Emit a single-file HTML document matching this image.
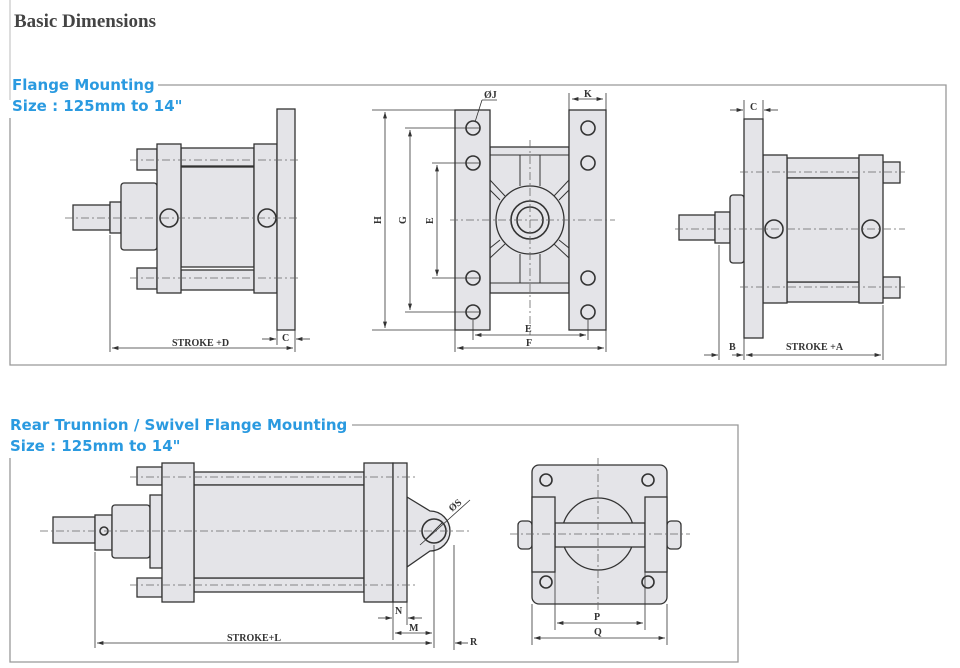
<!DOCTYPE html>
<html><head><meta charset="utf-8"><style>
html,body{margin:0;padding:0;background:#fff;}
svg{display:block;}
.t{font-family:"Liberation Serif",serif;}
.b{font-family:"DejaVu Sans","Liberation Sans",sans-serif;font-weight:bold;fill:#2a9ae0;font-size:15px;}
.p{fill:#e4e4e8;stroke:#333;stroke-width:1.3;}
.l{stroke:#333;stroke-width:1;fill:none;}
.c{stroke:#666;stroke-width:0.8;stroke-dasharray:8 3 2 3;fill:none;}
.d{stroke:#333;stroke-width:0.8;fill:none;}
.h{fill:#e4e4e8;stroke:#333;stroke-width:1.6;}
.lab{font-family:"Liberation Serif",serif;font-size:10px;font-weight:bold;fill:#333;}
</style></head><body>
<svg width="960" height="668" viewBox="0 0 960 668" xmlns="http://www.w3.org/2000/svg">
<defs><marker id="a" markerWidth="8" markerHeight="6" refX="8" refY="3" orient="auto-start-reverse"><path d="M0,0.5 L8,3 L0,5.5z" fill="#333"/></marker></defs>
<text x="14" y="27" class="t" font-size="19" font-weight="bold" fill="#444">Basic Dimensions</text>
<line x1="10" y1="0" x2="10" y2="100" stroke="#bbb"/>
<!-- box 1 -->
<path d="M158,85 H946 V365 H10 V118" fill="none" stroke="#999" stroke-width="1.3"/>
<text x="12" y="90" class="b">Flange Mounting</text>
<text x="12" y="111" class="b">Size : 125mm to 14"</text>
<!-- box 2 -->
<path d="M352,425 H738 V662 H10 V458" fill="none" stroke="#999" stroke-width="1.3"/>
<text x="10" y="430" class="b">Rear Trunnion / Swivel Flange Mounting</text>
<text x="10" y="451" class="b">Size : 125mm to 14"</text>

<!-- Drawing 1 -->
<g>
<rect x="73" y="205" width="37" height="25" class="p"/>
<rect x="110" y="202" width="11" height="31" class="p"/>
<rect x="121" y="183" width="36" height="67" class="p" rx="3"/>
<rect x="137" y="149" width="20" height="21" class="p"/>
<rect x="137" y="268" width="20" height="21" class="p"/>
<rect x="181" y="148" width="73" height="18" class="p"/>
<rect x="181" y="270" width="73" height="20" class="p"/>
<rect x="181" y="167" width="73" height="100" class="p"/>
<rect x="157" y="144" width="24" height="149" class="p"/>
<rect x="254" y="144" width="23" height="149" class="p"/>
<rect x="277" y="109" width="18" height="221" class="p"/>
<circle cx="169" cy="218" r="9" class="h"/><circle cx="267" cy="218" r="9" class="h"/>
<line x1="130" y1="160" x2="300" y2="160" class="c"/><line x1="130" y1="278" x2="300" y2="278" class="c"/>
<line x1="65" y1="218" x2="300" y2="218" class="c"/>
<line x1="110" y1="235" x2="110" y2="352" class="d"/><line x1="295" y1="330" x2="295" y2="352" class="d"/><line x1="277" y1="330" x2="277" y2="345" class="d"/>
<line x1="112" y1="348" x2="293" y2="348" class="d" marker-start="url(#a)" marker-end="url(#a)"/>
<text x="172" y="346" class="lab">STROKE +D</text>
<line x1="262" y1="339" x2="276" y2="339" class="d" marker-end="url(#a)"/><line x1="310" y1="339" x2="296" y2="339" class="d" marker-end="url(#a)"/>
<text x="282" y="341" class="lab">C</text>
</g>

<!-- Drawing 2 -->
<g>
<rect x="490" y="147" width="79" height="146" class="p"/>
<line x1="490" y1="155" x2="569" y2="155" class="l"/><line x1="490" y1="283" x2="569" y2="283" class="l"/>
<line x1="520" y1="155" x2="520" y2="186" class="l"/><line x1="540" y1="155" x2="540" y2="186" class="l"/>
<line x1="520" y1="254" x2="520" y2="283" class="l"/><line x1="540" y1="254" x2="540" y2="283" class="l"/>
<path d="M490,180 L505,196 M490,190 L500,200 M569,180 L554,196 M569,190 L559,200 M490,258 L505,244 M490,248 L500,240 M569,258 L554,244 M569,248 L559,240" class="l"/>
<circle cx="530" cy="220" r="34" class="p"/><circle cx="530" cy="220" r="19" class="h"/><circle cx="530" cy="220" r="13" class="h"/>
<rect x="455" y="110" width="35" height="220" class="p"/>
<rect x="569" y="110" width="37" height="220" class="p"/>
<g class="h"><circle cx="473" cy="128" r="7"/><circle cx="473" cy="163" r="7"/><circle cx="473" cy="278" r="7"/><circle cx="473" cy="312" r="7"/>
<circle cx="588" cy="128" r="7"/><circle cx="588" cy="163" r="7"/><circle cx="588" cy="278" r="7"/><circle cx="588" cy="312" r="7"/></g>
<line x1="450" y1="220" x2="615" y2="220" class="c"/><line x1="530" y1="140" x2="530" y2="335" class="c"/>
<line x1="372" y1="110" x2="455" y2="110" class="d"/><line x1="372" y1="330" x2="455" y2="330" class="d"/>
<line x1="385" y1="112" x2="385" y2="328" class="d" marker-start="url(#a)" marker-end="url(#a)"/>
<line x1="405" y1="128" x2="480" y2="128" class="d"/><line x1="405" y1="312" x2="480" y2="312" class="d"/>
<line x1="410" y1="130" x2="410" y2="310" class="d" marker-start="url(#a)" marker-end="url(#a)"/>
<line x1="432" y1="163" x2="480" y2="163" class="d"/><line x1="432" y1="278" x2="480" y2="278" class="d"/>
<line x1="437" y1="165" x2="437" y2="276" class="d" marker-start="url(#a)" marker-end="url(#a)"/>
<text x="381" y="224" class="lab" transform="rotate(-90 381 224)">H</text>
<text x="406" y="224" class="lab" transform="rotate(-90 406 224)">G</text>
<text x="433" y="224" class="lab" transform="rotate(-90 433 224)">E</text>
<line x1="473" y1="320" x2="473" y2="340" class="d"/><line x1="588" y1="320" x2="588" y2="340" class="d"/>
<line x1="475" y1="335" x2="586" y2="335" class="d" marker-start="url(#a)" marker-end="url(#a)"/>
<text x="525" y="332" class="lab">E</text>
<line x1="455" y1="330" x2="455" y2="352" class="d"/><line x1="606" y1="330" x2="606" y2="352" class="d"/>
<line x1="457" y1="348" x2="604" y2="348" class="d" marker-start="url(#a)" marker-end="url(#a)"/>
<text x="526" y="346" class="lab">F</text>
<text x="484" y="98" class="lab">ØJ</text><path d="M482,100 H497 M482,100 L475,122" class="d"/>
<line x1="569" y1="93" x2="569" y2="110" class="d"/><line x1="606" y1="93" x2="606" y2="110" class="d"/>
<line x1="572" y1="99" x2="603" y2="99" class="d" marker-start="url(#a)" marker-end="url(#a)"/>
<text x="584" y="97" class="lab">K</text>
</g>

<!-- Drawing 3 -->
<g>
<rect x="679" y="215" width="36" height="25" class="p"/>
<rect x="715" y="212" width="15" height="31" class="p"/>
<rect x="730" y="195" width="14" height="68" class="p" rx="3"/>
<rect x="787" y="158" width="72" height="20" class="p"/>
<rect x="787" y="282" width="72" height="20" class="p"/>
<rect x="787" y="178" width="72" height="104" class="p"/>
<rect x="883" y="162" width="17" height="21" class="p"/>
<rect x="883" y="277" width="17" height="21" class="p"/>
<rect x="763" y="155" width="24" height="148" class="p"/>
<rect x="859" y="155" width="24" height="148" class="p"/>
<rect x="744" y="119" width="19" height="219" class="p"/>
<circle cx="774" cy="229" r="9" class="h"/><circle cx="871" cy="229" r="9" class="h"/>
<line x1="740" y1="172" x2="905" y2="172" class="c"/><line x1="740" y1="287" x2="905" y2="287" class="c"/>
<line x1="675" y1="229" x2="905" y2="229" class="c"/>
<line x1="719" y1="245" x2="719" y2="360" class="d"/><line x1="744" y1="338" x2="744" y2="360" class="d"/><line x1="883" y1="305" x2="883" y2="360" class="d"/>
<line x1="704" y1="355" x2="718" y2="355" class="d" marker-end="url(#a)"/><line x1="732" y1="355" x2="743" y2="355" class="d" marker-end="url(#a)"/>
<line x1="746" y1="355" x2="881" y2="355" class="d" marker-start="url(#a)" marker-end="url(#a)"/>
<text x="729" y="350" class="lab">B</text><text x="786" y="350" class="lab">STROKE +A</text>
<line x1="744" y1="100" x2="744" y2="119" class="d"/><line x1="763" y1="100" x2="763" y2="119" class="d"/>
<line x1="730" y1="110" x2="743" y2="110" class="d" marker-end="url(#a)"/><line x1="778" y1="110" x2="764" y2="110" class="d" marker-end="url(#a)"/>
<text x="750" y="110" class="lab">C</text>
</g>

<!-- Drawing 4 -->
<g>
<rect x="53" y="517" width="42" height="26" class="p"/>
<rect x="95" y="515" width="17" height="35" class="p"/><circle cx="104" cy="531" r="4" class="h"/>
<rect x="112" y="505" width="38" height="53" class="p" rx="3"/>
<rect x="150" y="495" width="12" height="73" class="p"/>
<rect x="137" y="467" width="25" height="18" class="p"/><rect x="137" y="578" width="25" height="19" class="p"/>
<rect x="194" y="472" width="170" height="13" class="p"/><rect x="194" y="578" width="170" height="14" class="p"/>
<rect x="194" y="485" width="170" height="93" class="p"/>
<path d="M407,497 L430,511 A20,20 0 1 1 430,551 L407,567 Z" class="p"/>
<circle cx="434" cy="531" r="12" class="h"/><line x1="426" y1="539" x2="442" y2="523" class="l"/>
<rect x="162" y="463" width="32" height="139" class="p"/>
<rect x="364" y="463" width="29" height="139" class="p"/>
<rect x="393" y="463" width="14" height="139" class="p"/>
<line x1="130" y1="477" x2="415" y2="477" class="c"/><line x1="130" y1="585" x2="415" y2="585" class="c"/>
<line x1="40" y1="531" x2="470" y2="531" class="c"/>
<line x1="95" y1="552" x2="95" y2="648" class="d"/><line x1="434" y1="545" x2="434" y2="648" class="d"/>
<line x1="97" y1="643" x2="432" y2="643" class="d" marker-start="url(#a)" marker-end="url(#a)"/>
<text x="227" y="641" class="lab">STROKE+L</text>
<line x1="393" y1="602" x2="393" y2="640" class="d"/><line x1="407" y1="602" x2="407" y2="625" class="d"/>
<line x1="378" y1="618" x2="392" y2="618" class="d" marker-end="url(#a)"/><line x1="422" y1="618" x2="408" y2="618" class="d" marker-end="url(#a)"/>
<text x="395" y="614" class="lab">N</text>
<line x1="395" y1="633" x2="432" y2="633" class="d" marker-start="url(#a)" marker-end="url(#a)"/>
<text x="409" y="631" class="lab">M</text>
<line x1="454" y1="545" x2="454" y2="650" class="d"/>
<line x1="468" y1="643" x2="455" y2="643" class="d" marker-end="url(#a)"/>
<text x="470" y="645" class="lab">R</text>
<line x1="420" y1="545" x2="470" y2="500" class="d"/>
<text x="452" y="512" class="lab" transform="rotate(-40 452 512)">ØS</text>
</g>

<!-- Drawing 5 -->
<g>
<rect x="532" y="465" width="135" height="139" rx="7" class="p"/>
<circle cx="598" cy="534" r="36" class="p"/>
<rect x="518" y="521" width="14" height="28" rx="4" class="p"/><rect x="667" y="521" width="14" height="28" rx="4" class="p"/>
<rect x="555" y="523" width="90" height="24" class="p"/>
<rect x="532" y="497" width="23" height="75" class="p"/><rect x="645" y="497" width="22" height="75" class="p"/>
<g class="h"><circle cx="546" cy="480" r="6"/><circle cx="648" cy="480" r="6"/><circle cx="546" cy="582" r="6"/><circle cx="648" cy="582" r="6"/></g>
<line x1="510" y1="534" x2="690" y2="534" class="c"/><line x1="598" y1="458" x2="598" y2="612" class="c"/>
<line x1="555" y1="572" x2="555" y2="630" class="d"/><line x1="645" y1="572" x2="645" y2="630" class="d"/>
<line x1="557" y1="623" x2="643" y2="623" class="d" marker-start="url(#a)" marker-end="url(#a)"/>
<text x="594" y="620" class="lab">P</text>
<line x1="532" y1="604" x2="532" y2="645" class="d"/><line x1="667" y1="604" x2="667" y2="645" class="d"/>
<line x1="534" y1="638" x2="665" y2="638" class="d" marker-start="url(#a)" marker-end="url(#a)"/>
<text x="594" y="635" class="lab">Q</text>
</g>
</svg>
</body></html>
